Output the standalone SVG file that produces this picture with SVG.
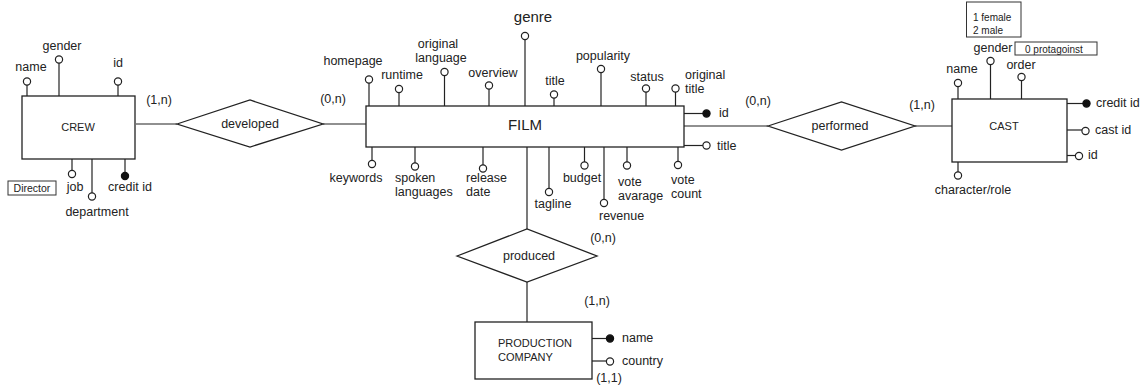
<svg xmlns="http://www.w3.org/2000/svg" width="1147" height="387" viewBox="0 0 1147 387">
<style>
text{font-family:"Liberation Sans",Arial,sans-serif;font-size:12.5px;fill:#222}
.m{text-anchor:middle}
.sm{font-size:10.5px}
.en{font-size:11px}
.xs{font-size:10px}
.big{font-size:15px}
.box{fill:#fff;stroke:#222;stroke-width:1.3}
.note{fill:#fff;stroke:#333;stroke-width:1}
.ln{stroke:#222;stroke-width:1.2;fill:none}
.o{fill:#fff;stroke:#222;stroke-width:1.2}
.f{fill:#111;stroke:#111;stroke-width:1.2}
</style>
<g id="connectors">
<line class="ln" x1="136" y1="124" x2="177" y2="124"/>
<line class="ln" x1="323" y1="124" x2="366" y2="124"/>
<line class="ln" x1="684" y1="126" x2="768" y2="126"/>
<line class="ln" x1="915" y1="126" x2="952" y2="126"/>
<line class="ln" x1="527" y1="147" x2="527" y2="229"/>
<line class="ln" x1="527" y1="282" x2="527" y2="322"/>
<text class="m" x="159" y="104">(1,n)</text>
<text class="m" x="333" y="103">(0,n)</text>
<text class="m" x="758" y="105">(0,n)</text>
<text class="m" x="922" y="109">(1,n)</text>
<text class="m" x="603" y="242">(0,n)</text>
<text class="m" x="597" y="305">(1,n)</text>
<text class="m" x="609" y="382">(1,1)</text>
</g>
<g id="crew">
<rect class="box" x="22" y="96" width="113" height="63"/>
<text class="m en" x="78" y="131">CREW</text>
<line class="ln" x1="27" y1="96" x2="27" y2="85"/><circle class="o" cx="27" cy="81.5" r="3.6"/><text class="m" x="31" y="71">name</text>
<line class="ln" x1="59" y1="96" x2="59" y2="63"/><circle class="o" cx="59" cy="59.5" r="3.6"/><text class="m" x="62" y="50">gender</text>
<line class="ln" x1="118" y1="96" x2="118" y2="85"/><circle class="o" cx="118" cy="81.5" r="3.6"/><text class="m" x="118" y="67">id</text>
<line class="ln" x1="72" y1="159" x2="72" y2="170"/><circle class="o" cx="72" cy="174" r="3.6"/><text class="m" x="75" y="191">job</text>
<line class="ln" x1="92" y1="159" x2="92" y2="193"/><circle class="o" cx="92" cy="196.5" r="3.6"/><text class="m" x="97" y="216">department</text>
<line class="ln" x1="125" y1="159" x2="125" y2="172"/><circle class="f" cx="125" cy="176" r="3.6"/><text class="m" x="130" y="191">credit id</text>
<rect class="note" x="8" y="181" width="48" height="14"/><text class="m sm" x="32" y="192">Director</text>
</g>
<g id="developed">
<polygon class="box" points="177,124 250,100 323,124 250,147"/>
<text class="m" x="250" y="128">developed</text>
</g>
<g id="film">
<rect class="box" x="366" y="106" width="318" height="41"/>
<text class="m big" x="525" y="130">FILM</text>
<line class="ln" x1="369" y1="106" x2="369" y2="83"/><circle class="o" cx="369" cy="79.5" r="3.6"/><text class="m" x="353" y="65">homepage</text>
<line class="ln" x1="399" y1="106" x2="399" y2="93"/><circle class="o" cx="399" cy="89" r="3.6"/><text class="m" x="402" y="79">runtime</text>
<line class="ln" x1="444.5" y1="106" x2="444.5" y2="75.5"/><circle class="o" cx="444.5" cy="72" r="3.6"/><text class="m" x="438" y="48">original</text><text class="m" x="441" y="62">language</text>
<line class="ln" x1="489" y1="106" x2="489" y2="89"/><circle class="o" cx="489" cy="85.5" r="3.6"/><text class="m" x="493" y="77">overview</text>
<line class="ln" x1="525" y1="106" x2="525" y2="39.5"/><circle class="o" cx="525" cy="36" r="3.6"/><text class="m big" x="533" y="22">genre</text>
<line class="ln" x1="554" y1="106" x2="554" y2="98"/><circle class="o" cx="554" cy="94.5" r="3.6"/><text class="m" x="555" y="85">title</text>
<line class="ln" x1="601" y1="106" x2="601" y2="72.5"/><circle class="o" cx="601" cy="69" r="3.6"/><text class="m" x="603" y="60">popularity</text>
<line class="ln" x1="646" y1="106" x2="646" y2="92"/><circle class="o" cx="646" cy="88.5" r="3.6"/><text class="m" x="647" y="81">status</text>
<line class="ln" x1="675.5" y1="106" x2="675.5" y2="92"/><circle class="o" cx="675.5" cy="88.5" r="3.6"/><text x="685" y="79">original</text><text x="685" y="93">title</text>
<line class="ln" x1="684" y1="113.5" x2="703" y2="113.5"/><circle class="f" cx="706.5" cy="113.5" r="3.6"/><text x="719" y="117">id</text>
<line class="ln" x1="684" y1="145.5" x2="703" y2="145.5"/><circle class="o" cx="706.5" cy="145.5" r="3.6"/><text x="717" y="150">title</text>
<line class="ln" x1="372" y1="147" x2="372" y2="160.5"/><circle class="o" cx="372" cy="164" r="3.6"/><text class="m" x="356" y="182">keywords</text>
<line class="ln" x1="415" y1="147" x2="415" y2="163"/><circle class="o" cx="415" cy="166.5" r="3.6"/><text x="395" y="182">spoken</text><text x="395" y="196">languages</text>
<line class="ln" x1="483" y1="147" x2="483" y2="165"/><circle class="o" cx="483" cy="168.5" r="3.6"/><text x="466" y="182">release</text><text x="466" y="196">date</text>
<line class="ln" x1="549" y1="147" x2="549" y2="188.5"/><circle class="o" cx="549" cy="192" r="3.6"/><text class="m" x="553" y="208">tagline</text>
<line class="ln" x1="584.5" y1="147" x2="584.5" y2="162"/><circle class="o" cx="584.5" cy="165.5" r="3.6"/><text class="m" x="582" y="182">budget</text>
<line class="ln" x1="604" y1="147" x2="604" y2="199.5"/><circle class="o" cx="604" cy="203" r="3.6"/><text x="599" y="220">revenue</text>
<line class="ln" x1="627" y1="147" x2="627" y2="162"/><circle class="o" cx="627" cy="165.5" r="3.6"/><text x="618" y="186">vote</text><text x="618" y="200">avarage</text>
<line class="ln" x1="678" y1="147" x2="678" y2="161.5"/><circle class="o" cx="678" cy="165" r="3.6"/><text x="671" y="184">vote</text><text x="671" y="198">count</text>
</g>
<g id="performed">
<polygon class="box" points="768,126 841.5,102 915,126 841.5,150"/>
<text class="m" x="840" y="130">performed</text>
</g>
<g id="cast">
<rect class="box" x="952" y="99" width="115" height="63"/>
<text class="m en" x="1004" y="130">CAST</text>
<line class="ln" x1="958" y1="99" x2="958" y2="86.5"/><circle class="o" cx="958" cy="83" r="3.6"/><text class="m" x="962" y="73">name</text>
<line class="ln" x1="990.5" y1="99" x2="990.5" y2="64.5"/><circle class="o" cx="990.5" cy="61" r="3.6"/><text class="m" x="993" y="52">gender</text>
<line class="ln" x1="1021.5" y1="99" x2="1021.5" y2="80.5"/><circle class="o" cx="1021.5" cy="77" r="3.6"/><text class="m" x="1021" y="69">order</text>
<line class="ln" x1="1067" y1="103.5" x2="1083" y2="103.5"/><circle class="f" cx="1086.5" cy="103.5" r="3.6"/><text x="1096" y="107">credit id</text>
<line class="ln" x1="1067" y1="130" x2="1082" y2="130"/><circle class="o" cx="1085.5" cy="131" r="3.6"/><text x="1095" y="134">cast id</text>
<line class="ln" x1="1067" y1="155.5" x2="1075.5" y2="155.5"/><circle class="o" cx="1079" cy="156" r="3.6"/><text x="1088" y="159">id</text>
<line class="ln" x1="958" y1="162" x2="958" y2="172"/><circle class="o" cx="958" cy="175.5" r="3.6"/><text class="m" x="973" y="194">character/role</text>
<rect class="note" x="966.5" y="2" width="54.5" height="35"/>
<text class="xs" x="973" y="21">1 female</text><text class="xs" x="973" y="34">2 male</text>
<rect class="note" x="1015" y="42" width="82" height="13"/>
<text class="xs" x="1025" y="52.5">0 protagoinst</text>
</g>
<g id="produced">
<polygon class="box" points="457,256 527,229 597,256 527,282"/>
<text class="m" x="529" y="260">produced</text>
</g>
<g id="production-company">
<rect class="box" x="475" y="322" width="117" height="57"/>
<text class="en" x="498" y="347">PRODUCTION</text>
<text class="en" x="498" y="361">COMPANY</text>
<line class="ln" x1="592" y1="338.5" x2="606.5" y2="338.5"/><circle class="f" cx="610" cy="338.5" r="3.6"/><text x="622" y="342">name</text>
<line class="ln" x1="592" y1="361" x2="606.5" y2="361"/><circle class="o" cx="610" cy="361.5" r="3.6"/><text x="622" y="365">country</text>
</g>
</svg>
